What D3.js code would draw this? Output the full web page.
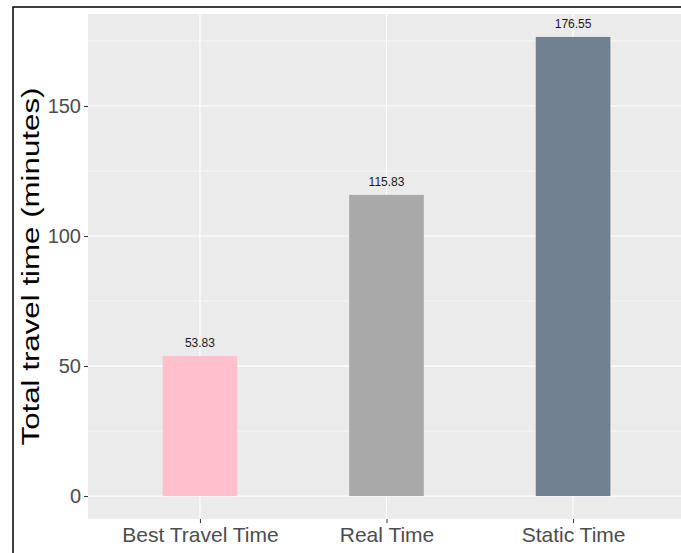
<!DOCTYPE html>
<html>
<head>
<meta charset="utf-8">
<script src="https://cdn.jsdelivr.net/npm/d3@7"></script>
<style>
  body { margin: 0; background: #fff; }
  svg { display: block; font-family: "Liberation Sans", Arial, sans-serif; }
</style>
</head>
<body>
<div class="chart"></div>
<script>
// values
let categories = ["Best Travel Time", "Real Time", "Static Time"];
let travelTimes = [53.83, 115.83, 176.55];
let barColors = ["#FFC0CB", "#A9A9A9", "#708090"];
let yTicks = [0, 50, 100, 150];
let yMinorTicks = [25, 75, 125, 175];

var W = 681, H = 553;
var panel = { left: 88, top: 14, right: 685, bottom: 519 };

var svg = d3.select(".chart").append("svg")
    .attr("width", W)
    .attr("height", H);

// ggplot style expansion: 5% on continuous, 0.6 on discrete
var ymax = d3.max(travelTimes);
var pad = ymax * 0.05;
var y = d3.scaleLinear()
    .domain([-pad, ymax + pad])
    .range([panel.bottom, panel.top]);

var xpos = d3.scaleLinear()
    .domain([0.4, categories.length + 0.6])
    .range([panel.left, panel.right]);
var x = function (c) { return xpos(categories.indexOf(c) + 1); };
var barW = xpos(1.4) - xpos(1);

// panel background
svg.append("rect")
    .attr("x", panel.left)
    .attr("y", panel.top)
    .attr("width", panel.right - panel.left)
    .attr("height", panel.bottom - panel.top)
    .attr("fill", "#EBEBEB");

// minor grid
svg.selectAll(".minor")
    .data(yMinorTicks)
    .enter().append("line")
    .attr("x1", panel.left).attr("x2", panel.right)
    .attr("y1", d => y(d)).attr("y2", d => y(d))
    .attr("stroke", "#fff").attr("stroke-width", 0.6);

// major grid
svg.selectAll(".major")
    .data(yTicks)
    .enter().append("line")
    .attr("x1", panel.left).attr("x2", panel.right)
    .attr("y1", d => y(d)).attr("y2", d => y(d))
    .attr("stroke", "#fff").attr("stroke-width", 1.2);

svg.selectAll(".vgrid")
    .data(categories)
    .enter().append("line")
    .attr("x1", d => x(d)).attr("x2", d => x(d))
    .attr("y1", panel.top).attr("y2", panel.bottom)
    .attr("stroke", "#fff").attr("stroke-width", 1.2);

// bars
svg.selectAll(".bar")
    .data(categories)
    .enter().append("rect")
    .attr("class", "bar")
    .attr("x", (d) => x(d) - barW / 2)
    .attr("width", barW)
    .attr("y", (d, i) => y(travelTimes[i]))
    .attr("height", (d, i) => y(0) - y(travelTimes[i]))
    .attr("fill", (d, i) => barColors[i]);

// value labels
svg.selectAll(".lbl")
    .data(categories)
    .enter().append("text")
    .attr("x", d => x(d))
    .attr("y", (d, i) => y(travelTimes[i]) - 9)
    .attr("text-anchor", "middle")
    .attr("font-size", "12px")
    .attr("fill", "#1a1a1a")
    .text((d, i) => travelTimes[i].toFixed(2));

// y axis
var yAxis = svg.append("g")
    .attr("transform", "translate(" + panel.left + ",0)")
    .call(d3.axisLeft(y).tickValues(yTicks).tickSize(4).tickPadding(3));
yAxis.select(".domain").remove();
yAxis.selectAll(".tick line").attr("stroke", "#333").attr("stroke-width", 1);
yAxis.selectAll(".tick text")
    .attr("font-size", "20px")
    .attr("fill", "#4D4D4D")
    .attr("font-family", "Liberation Sans, Arial, sans-serif");

// x axis
var xband = d3.scaleOrdinal().domain(categories).range(categories.map(x));
var xAxis = svg.append("g")
    .attr("transform", "translate(0," + panel.bottom + ")")
    .call(d3.axisBottom(xband).tickSize(4).tickPadding(4));
xAxis.select(".domain").remove();
xAxis.selectAll(".tick line").attr("stroke", "#333").attr("stroke-width", 1);
xAxis.selectAll(".tick text")
    .attr("font-size", "21px")
    .attr("fill", "#4D4D4D")
    .attr("font-family", "Liberation Sans, Arial, sans-serif");

// y title (stretched along its length like the reference)
svg.append("text")
    .attr("transform", "translate(39," + (panel.top + panel.bottom) / 2 + ") rotate(-90)")
    .attr("text-anchor", "middle")
    .attr("font-size", "23px")
    .attr("fill", "#000")
    .attr("textLength", 358)
    .attr("lengthAdjust", "spacingAndGlyphs")
    .text("Total travel time (minutes)");

// outer frame (left + top only, the picture is cropped)
svg.append("path")
    .attr("d", "M13," + H + " V7 H" + W)
    .attr("fill", "none")
    .attr("stroke", "#000")
    .attr("stroke-width", 1.5);
</script>
</body>
</html>
